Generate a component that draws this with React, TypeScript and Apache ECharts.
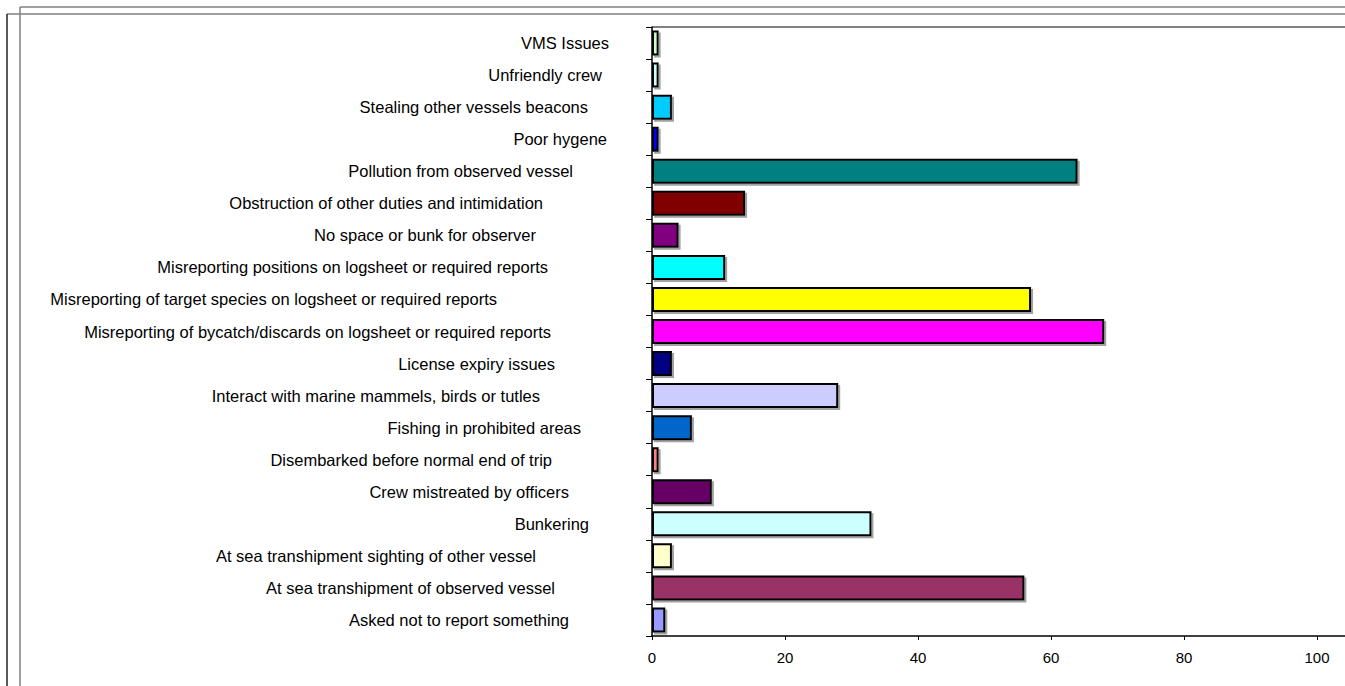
import React, { useEffect, useRef } from "react";
import * as echarts from "echarts";

const categories: string[] = [
  "VMS Issues",
  "Unfriendly crew",
  "Stealing other vessels beacons",
  "Poor hygene",
  "Pollution from observed vessel",
  "Obstruction of other duties and intimidation",
  "No space or bunk for observer",
  "Misreporting positions on logsheet or required reports",
  "Misreporting of target species on logsheet or required reports",
  "Misreporting of bycatch/discards on logsheet or required reports",
  "License expiry issues",
  "Interact with marine mammels, birds or tutles",
  "Fishing in prohibited areas",
  "Disembarked before normal end of trip",
  "Crew mistreated by officers",
  "Bunkering",
  "At sea transhipment sighting of other vessel",
  "At sea transhipment of observed vessel",
  "Asked not to report something",
];

const values: number[] = [1, 1, 3, 1, 64, 14, 4, 11, 57, 68, 3, 28, 6, 1, 9, 33, 3, 56, 2];

const barColors: string[] = [
  "#CCFFCC",
  "#CCFFFF",
  "#00CCFF",
  "#0000FF",
  "#008080",
  "#800000",
  "#800080",
  "#00FFFF",
  "#FFFF00",
  "#FF00FF",
  "#000080",
  "#CCCCFF",
  "#0066CC",
  "#FF8080",
  "#660066",
  "#CCFFFF",
  "#FFFFCC",
  "#993366",
  "#9999FF",
];

// where each category label ends on the left (layout, not data): the labels in
// the original are not aligned to a common edge
const labelRightEdge: number[] = [
  609, 602, 588, 607, 573, 543, 536, 548, 497, 551, 555, 540, 581, 552, 569, 589, 536, 555, 569,
];

const xTicks = { min: 0, interval: 20, lastLabel: 100 };

export default function App() {
  const ref = useRef<HTMLDivElement>(null);
  useEffect(() => {
    if (!ref.current) return;
    const chart = echarts.init(ref.current, undefined, { renderer: "svg" });
    const W = 1345;
    const H = 686;
    const gridLeft = 652;
    const gridTop = 27;
    const gridBottom = 50;
    const labelBaseRight = 609;
    const labelFont = 16.5;
    // the plot continues past the right edge: 100 sits at x=1317
    const pxPerUnit = (1317 - gridLeft) / xTicks.lastLabel;
    const xMax = (W - gridLeft) / pxPerUnit;
    const rich: Record<string, any> = {};
    labelRightEdge.forEach((r, i) => {
      rich["r" + i] = {
        fontSize: labelFont,
        color: "#000",
        fontFamily: "'Liberation Sans', Arial, sans-serif",
        padding: [0, Math.max(0, labelBaseRight - r), 0, 0],
      };
    });
    chart.setOption({
      animation: false,
      backgroundColor: "#ffffff",
      textStyle: { fontFamily: "'Liberation Sans', Arial, sans-serif" },
      grid: {
        left: gridLeft,
        top: gridTop,
        right: 0,
        bottom: gridBottom,
        show: false,
      },
      xAxis: {
        type: "value",
        min: xTicks.min,
        max: xMax,
        interval: xTicks.interval,
        splitLine: { show: false },
        axisLine: { show: true, lineStyle: { color: "#000", width: 1.5 } },
        axisTick: { show: true, length: 4, lineStyle: { color: "#000" } },
        axisLabel: {
          show: true,
          color: "#000",
          fontSize: 15,
          margin: 14,
          showMaxLabel: false,
          formatter: (v: number) => (v <= xTicks.lastLabel ? String(v) : ""),
        },
      },
      yAxis: {
        type: "category",
        inverse: true,
        data: categories,
        axisLine: { show: true, lineStyle: { color: "#000", width: 1.5 } },
        axisTick: { show: true, length: 6, lineStyle: { color: "#000" } },
        axisLabel: {
          color: "#000",
          fontSize: labelFont,
          margin: gridLeft - labelBaseRight,
          interval: 0,
          formatter: (v: string, i: number) => "{r" + i + "|" + v + "}",
          rich,
        },
        splitLine: { show: false },
      },
      series: [
        {
          type: "bar",
          barCategoryGap: "22%",
          data: values.map((v, i) => ({
            value: v,
            itemStyle: {
              color: barColors[i],
              borderColor: "#000",
              borderWidth: 2,
              shadowColor: "rgba(120,120,120,0.7)",
              shadowOffsetX: 2,
              shadowOffsetY: 2,
              shadowBlur: 0,
            },
          })),
        },
      ],
      graphic: [
        { type: "line", shape: { x1: 20, y1: 7, x2: W, y2: 7 }, style: { stroke: "#808080", lineWidth: 1.5 } },
        { type: "line", shape: { x1: 20, y1: 7, x2: 20, y2: H }, style: { stroke: "#808080", lineWidth: 1.5 } },
        { type: "line", shape: { x1: 7, y1: 14, x2: W, y2: 14 }, style: { stroke: "#808080", lineWidth: 1.5 } },
        { type: "line", shape: { x1: 7, y1: 14, x2: 7, y2: H }, style: { stroke: "#222", lineWidth: 1.5 } },
        { type: "line", shape: { x1: gridLeft, y1: gridTop, x2: W, y2: gridTop }, style: { stroke: "#808080", lineWidth: 2 } },
      ],
    });
    return () => chart.dispose();
  }, []);
  return (
    <div
      ref={ref}
      style={{ position: "absolute", left: 0, top: 0, width: 1345, height: 686 }}
    />
  );
}
